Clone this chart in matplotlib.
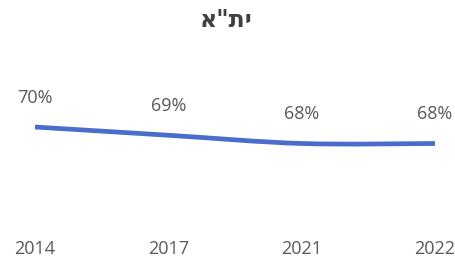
import matplotlib
matplotlib.use("Agg")
import matplotlib.pyplot as plt
from matplotlib.path import Path
from matplotlib.patches import PathPatch

years = ["2014", "2017", "2021", "2022"]
values = [70, 69, 68, 68]
labels = ["70%", "69%", "68%", "68%"]
title = 'א"תי'  # visual order of ית"א

plt.rcParams['font.family'] = ['Open Sans', 'DejaVu Sans']

fig = plt.figure(figsize=(4.56, 2.6), dpi=100)
ax = fig.add_axes([0, 30/260, 1, 170/260])
x = list(range(len(years)))

# smooth (Catmull-Rom -> Bezier) path through the data points
verts = [(x[0], values[0])]
codes = [Path.MOVETO]
n = len(x)
for i in range(n - 1):
    p0 = (x[i-1], values[i-1]) if i > 0 else (x[i], values[i])
    p1 = (x[i], values[i])
    p2 = (x[i+1], values[i+1])
    p3 = (x[i+2], values[i+2]) if i + 2 < n else p2
    c1 = (p1[0] + (p2[0]-p0[0])/6, p1[1] + (p2[1]-p0[1])/6)
    c2 = (p2[0] - (p3[0]-p1[0])/6, p2[1] - (p3[1]-p1[1])/6)
    verts += [c1, c2, p2]
    codes += [Path.CURVE4]*3
ax.add_patch(PathPatch(Path(verts, codes), fill=False, edgecolor="#4a6ccb",
                       lw=3.4, capstyle="butt"))

for xi, v, lab in zip(x, values, labels):
    ax.annotate(lab, (xi, v), xytext=(0, 21), textcoords="offset points",
                ha="center", va="center", fontsize=13, color="#595959")

w = 3 * 456 / 400
xmin = -35 * w / 456
ax.set_xlim(xmin, xmin + w)
ymin = 70 - (230 - 127)/8.25
ax.set_ylim(ymin, ymin + 170/8.25)
ax.set_xticks(x)
ax.set_xticklabels(years, fontsize=13, color="#595959")
ax.tick_params(axis="x", length=0, pad=7)
ax.set_yticks([])
for s in ax.spines.values():
    s.set_visible(False)

fig.text(0.496, 1 - 20/260, title, ha="center", va="center", fontsize=17,
         fontweight="bold", color="#404040", family=['DejaVu Sans'])

fig.savefig("out.png", dpi=100)
